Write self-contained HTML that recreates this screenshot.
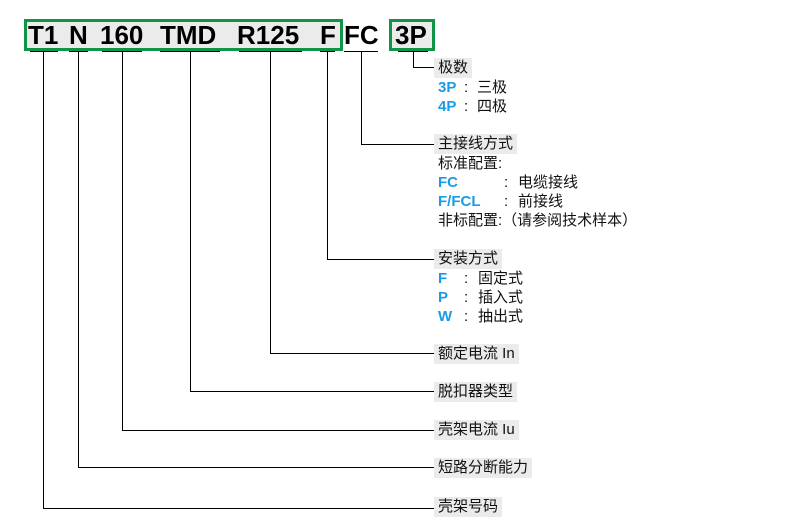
<!DOCTYPE html>
<html><head><meta charset="utf-8"><style>
body{margin:0;width:800px;height:520px;background:#fff;position:relative;overflow:hidden;font-family:"Liberation Sans","Noto Sans CJK SC",sans-serif;}
.a{position:absolute;white-space:nowrap;}
.big{font-size:26px;font-weight:bold;color:#000;top:18px;line-height:34px;letter-spacing:0px}
.lab{position:absolute;background:#ebebeb;font-size:15px;line-height:20px;height:20px;padding:0 4px 0 4px;color:#111;}
.t{position:absolute;font-size:15px;line-height:19px;color:#111;white-space:nowrap;}
.b{color:#1a9be8;font-weight:bold;}
</style></head><body>
<div class="a" style="left:24px;top:19px;width:318px;height:31px;background:#ebebeb;"></div>
<div class="a" style="left:389px;top:19px;width:45px;height:31px;background:#ebebeb;"></div>
<div class="a big" style="left:28px">T1</div>
<div class="a big" style="left:69px">N</div>
<div class="a big" style="left:100px">160</div>
<div class="a big" style="left:160px">TMD</div>
<div class="a big" style="left:237px">R125</div>
<div class="a big" style="left:320px">F</div>
<div class="a big" style="left:344px">FC</div>
<div class="a big" style="left:395px">3P</div>
<svg class="a" style="left:0;top:0" width="800" height="520">
<rect x="25.5" y="20.5" width="316" height="29" fill="none" stroke="#119447" stroke-width="3"/>
<rect x="390.5" y="20.5" width="43" height="29" fill="none" stroke="#119447" stroke-width="3"/>
<g stroke="#000" stroke-width="1" fill="none">
<line x1="30" y1="51.5" x2="58" y2="51.5"/><line x1="69" y1="51.5" x2="88" y2="51.5"/>
<line x1="102" y1="51.5" x2="142" y2="51.5"/><line x1="160" y1="51.5" x2="220" y2="51.5"/>
<line x1="239" y1="51.5" x2="302" y2="51.5"/><line x1="320" y1="51.5" x2="335" y2="51.5"/>
<line x1="344" y1="51.5" x2="378" y2="51.5"/><line x1="398" y1="51.5" x2="428" y2="51.5"/>
<polyline points="413.5,52 413.5,67.5 434,67.5"/>
<polyline points="361.5,52 361.5,144.5 434,144.5"/>
<polyline points="327.5,52 327.5,259.5 434,259.5"/>
<polyline points="270.5,52 270.5,353.5 434,353.5"/>
<polyline points="190.5,52 190.5,391.5 434,391.5"/>
<polyline points="122.5,52 122.5,430.5 434,430.5"/>
<polyline points="78.5,52 78.5,467.5 434,467.5"/>
<polyline points="43.5,52 43.5,508.5 434,508.5"/>
</g></svg>
<div class="lab" style="left:434px;top:58px">极数</div>
<div class="t" style="left:438px;top:78px"><span class="b">3P</span></div><div class="t" style="left:464px;top:78px">:</div><div class="t" style="left:477px;top:78px">三极</div>
<div class="t" style="left:438px;top:97px"><span class="b">4P</span></div><div class="t" style="left:464px;top:97px">:</div><div class="t" style="left:477px;top:97px">四极</div>
<div class="lab" style="left:434px;top:134px">主接线方式</div>
<div class="t" style="left:438px;top:154px">标准配置:</div>
<div class="t" style="left:438px;top:173px"><span class="b">FC</span></div><div class="t" style="left:504px;top:173px">:</div><div class="t" style="left:518px;top:173px">电缆接线</div>
<div class="t" style="left:438px;top:192px"><span class="b">F/FCL</span></div><div class="t" style="left:504px;top:192px">:</div><div class="t" style="left:518px;top:192px">前接线</div>
<div class="t" style="left:438px;top:211px">非标配置:（请参阅技术样本）</div>
<div class="lab" style="left:434px;top:249px">安装方式</div>
<div class="t" style="left:438px;top:269px"><span class="b">F</span></div><div class="t" style="left:464px;top:269px">:</div><div class="t" style="left:478px;top:269px">固定式</div>
<div class="t" style="left:438px;top:288px"><span class="b">P</span></div><div class="t" style="left:464px;top:288px">:</div><div class="t" style="left:478px;top:288px">插入式</div>
<div class="t" style="left:438px;top:307px"><span class="b">W</span></div><div class="t" style="left:464px;top:307px">:</div><div class="t" style="left:478px;top:307px">抽出式</div>
<div class="lab" style="left:434px;top:344px">额定电流 In</div>
<div class="lab" style="left:434px;top:382px">脱扣器类型</div>
<div class="lab" style="left:434px;top:420px">壳架电流 Iu</div>
<div class="lab" style="left:434px;top:458px">短路分断能力</div>
<div class="lab" style="left:434px;top:497px">壳架号码</div>
</body></html>
